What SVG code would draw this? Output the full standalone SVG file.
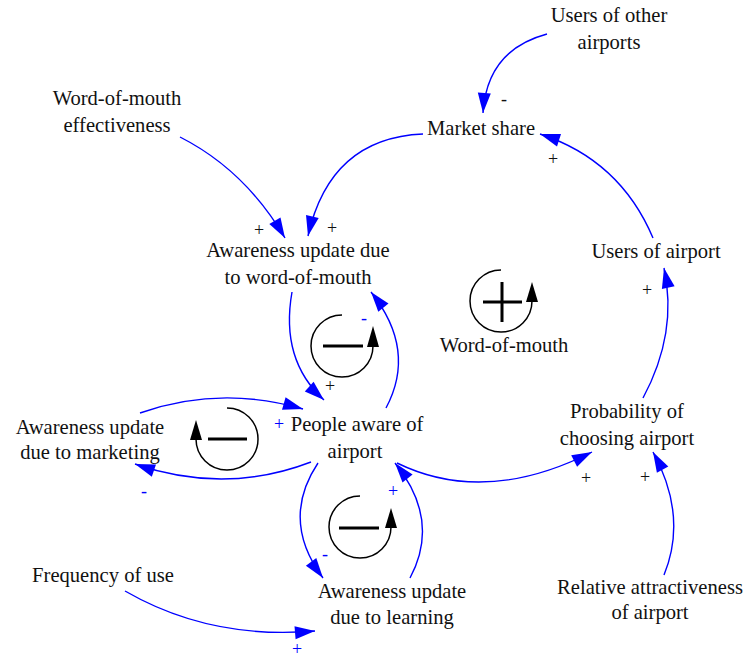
<svg xmlns="http://www.w3.org/2000/svg" width="743" height="659" viewBox="0 0 743 659">
<rect width="743" height="659" fill="#fff"/>
<g id="connectors">
<g fill="none" stroke="#00f" stroke-width="1.4">
<path d="M547,34 Q487,50 483,113"/>
<path d="M423,134 Q330,138 308,236"/>
<path d="M180,137 Q245,170 285,238"/>
<path d="M292,292 Q280,360 324,400"/>
<path d="M386,408 Q417,350 371,292"/>
<path d="M140,413 Q220,385 303,409"/>
<path d="M311,462 Q225,495 135,464"/>
<path d="M318,463 Q280,520 323,578"/>
<path d="M410,578 Q441,520 395,463"/>
<path d="M397,463 Q485,506 592,452"/>
<path d="M664,575 Q688,516 653,452"/>
<path d="M643,398 Q678,333 664,268"/>
<path d="M653,238 Q620,160 540,134"/>
<path d="M125,591 Q210,640 315,631"/>
</g>
<g fill="#00f">
<polygon points="483,113 477.8,92.6 490.8,93.5"/>
<polygon points="308,236 306,215.1 318.7,217.9"/>
<polygon points="285,238 269.3,224.1 280.5,217.5"/>
<polygon points="324,400 304.8,391.4 313.6,381.7"/>
<polygon points="371,292 388.5,303.6 378.3,311.7"/>
<polygon points="303,409 282,409.7 285.6,397.2"/>
<polygon points="135,464 156,464.4 151.8,476.7"/>
<polygon points="323,578 305.9,565.8 316.3,558.1"/>
<polygon points="395,463 412.6,474.5 402.5,482.6"/>
<polygon points="592,452 577.1,466.8 571.2,455.2"/>
<polygon points="653,452 668.3,466.4 656.9,472.7"/>
<polygon points="664,268 674.6,286.2 661.9,288.9"/>
<polygon points="540,134 561,134 557,146.4"/>
<polygon points="315,631 295.6,639.2 294.5,626.2"/>
</g>
</g>
<g id="polarities">
<text font-family="Liberation Serif" font-size="18" text-anchor="middle" fill="#111" x="504" y="105">-</text>
<text font-family="Liberation Serif" font-size="18" text-anchor="middle" fill="#111" x="553" y="165">+</text>
<text font-family="Liberation Serif" font-size="18" text-anchor="middle" fill="#111" x="259" y="236">+</text>
<text font-family="Liberation Serif" font-size="18" text-anchor="middle" fill="#111" x="332" y="234">+</text>
<text font-family="Liberation Serif" font-size="18" text-anchor="middle" fill="#111" x="330" y="392">+</text>
<text font-family="Liberation Serif" font-size="18" text-anchor="middle" fill="#111" x="647" y="296">+</text>
<text font-family="Liberation Serif" font-size="18" text-anchor="middle" fill="#111" x="586" y="484">+</text>
<text font-family="Liberation Serif" font-size="18" text-anchor="middle" fill="#111" x="645" y="483">+</text>
<text font-family="Liberation Serif" font-size="18" text-anchor="middle" fill="#00f" x="364" y="324">-</text>
<text font-family="Liberation Serif" font-size="18" text-anchor="middle" fill="#00f" x="279" y="430">+</text>
<text font-family="Liberation Serif" font-size="18" text-anchor="middle" fill="#00f" x="144" y="497">-</text>
<text font-family="Liberation Serif" font-size="18" text-anchor="middle" fill="#00f" x="325" y="560">-</text>
<text font-family="Liberation Serif" font-size="18" text-anchor="middle" fill="#00f" x="393" y="497">+</text>
<text font-family="Liberation Serif" font-size="18" text-anchor="middle" fill="#00f" x="297" y="655">+</text>
</g>
<g id="loop-wom">
<path d="M501,270 A31,31 0 1 0 532,301" fill="none" stroke="#000" stroke-width="1.5"/>
<polygon points="526,302 538,302 532,282" fill="#000"/>
<path d="M483,302 H522 M502,282 V322" fill="none" stroke="#000" stroke-width="3"/>
<text font-family="Liberation Serif" font-size="20.6" text-anchor="middle" fill="#111" x="504" y="352">Word-of-mouth</text>
</g>
<g id="loop-b1">
<path d="M342,315 A31,31 0 1 0 373,346" fill="none" stroke="#000" stroke-width="1.5"/>
<polygon points="367,347 379,347 373,326" fill="#000"/>
<path d="M323,346 H363" fill="none" stroke="#000" stroke-width="3"/>
</g>
<g id="loop-b2">
<path d="M227,408 A31,31 0 1 1 196,439" fill="none" stroke="#000" stroke-width="1.5"/>
<polygon points="190,440 202,440 196,420" fill="#000"/>
<path d="M208,439 H247" fill="none" stroke="#000" stroke-width="3"/>
</g>
<g id="loop-b3">
<path d="M360,496 A31,31 0 1 0 391,527" fill="none" stroke="#000" stroke-width="1.5"/>
<polygon points="385,528 397,528 391,508" fill="#000"/>
<path d="M339,528 H379" fill="none" stroke="#000" stroke-width="3"/>
</g>
<g id="n-users-other"><text font-family="Liberation Serif" font-size="20.6" text-anchor="middle" fill="#111" x="609" y="22">Users of other</text><text font-family="Liberation Serif" font-size="20.6" text-anchor="middle" fill="#111" x="609" y="49">airports</text></g>
<g id="n-market-share"><text font-family="Liberation Serif" font-size="20.6" text-anchor="middle" fill="#111" x="481" y="135">Market share</text></g>
<g id="n-wom-eff"><text font-family="Liberation Serif" font-size="20.6" text-anchor="middle" fill="#111" x="117" y="105">Word-of-mouth</text><text font-family="Liberation Serif" font-size="20.6" text-anchor="middle" fill="#111" x="117" y="132">effectiveness</text></g>
<g id="n-aw-wom"><text font-family="Liberation Serif" font-size="20.6" text-anchor="middle" fill="#111" x="298" y="257">Awareness update due</text><text font-family="Liberation Serif" font-size="20.6" text-anchor="middle" fill="#111" x="298" y="284">to word-of-mouth</text></g>
<g id="n-users-airport"><text font-family="Liberation Serif" font-size="20.6" text-anchor="middle" fill="#111" x="656" y="258">Users of airport</text></g>
<g id="n-people-aware"><text font-family="Liberation Serif" font-size="20.6" text-anchor="middle" fill="#111" x="357" y="431">People aware of</text><text font-family="Liberation Serif" font-size="20.6" text-anchor="middle" fill="#111" x="355" y="458">airport</text></g>
<g id="n-aw-marketing"><text font-family="Liberation Serif" font-size="20.6" text-anchor="middle" fill="#111" x="90" y="434">Awareness update</text><text font-family="Liberation Serif" font-size="20.6" text-anchor="middle" fill="#111" x="90" y="459">due to marketing</text></g>
<g id="n-prob"><text font-family="Liberation Serif" font-size="20.6" text-anchor="middle" fill="#111" x="627" y="418">Probability of</text><text font-family="Liberation Serif" font-size="20.6" text-anchor="middle" fill="#111" x="627" y="445">choosing airport</text></g>
<g id="n-aw-learning"><text font-family="Liberation Serif" font-size="20.6" text-anchor="middle" fill="#111" x="392" y="598">Awareness update</text><text font-family="Liberation Serif" font-size="20.6" text-anchor="middle" fill="#111" x="392" y="624">due to learning</text></g>
<g id="n-rel-attr"><text font-family="Liberation Serif" font-size="20.6" text-anchor="middle" fill="#111" x="650" y="594">Relative attractiveness</text><text font-family="Liberation Serif" font-size="20.6" text-anchor="middle" fill="#111" x="650" y="619">of airport</text></g>
<g id="n-freq"><text font-family="Liberation Serif" font-size="20.6" text-anchor="middle" fill="#111" x="103" y="582">Frequency of use</text></g>
</svg>
